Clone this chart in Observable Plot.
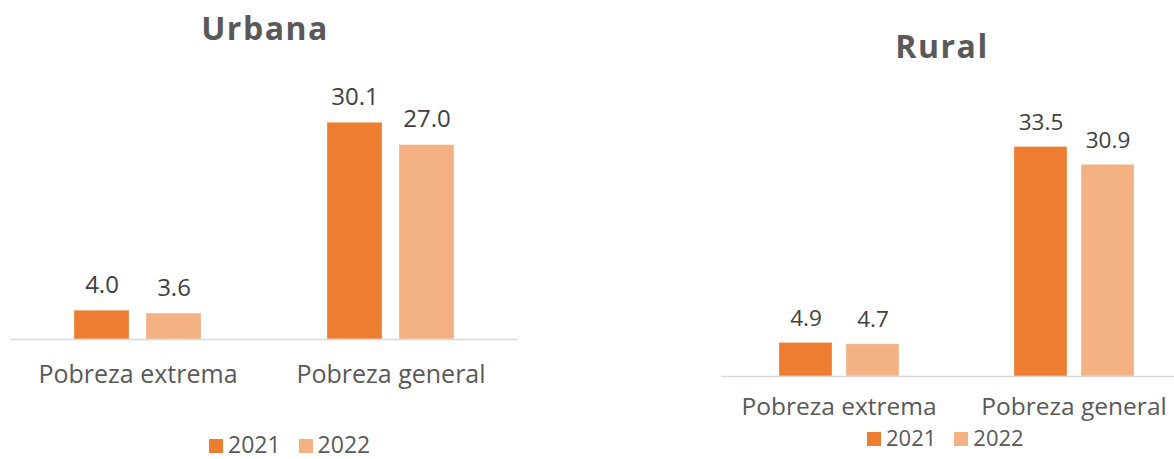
<!DOCTYPE html>
<html>
<head>
<meta charset="utf-8">
<script src="https://cdn.jsdelivr.net/npm/d3@7"></script>
<script src="https://cdn.jsdelivr.net/npm/@observablehq/plot@0.6"></script>
<style>
  html, body { margin: 0; padding: 0; background: #fff; overflow: hidden; }
  #root { position: relative; width: 1174px; height: 459px; overflow: hidden; font-family: "Open Sans", sans-serif; }
  .panel { position: absolute; top: 0; }
  .panel svg { max-width: none !important; }
  .title { position: absolute; width: 400px; text-align: center; font-size: 32px; line-height: 32px; font-weight: 700; color: #595959; letter-spacing: 1.5px; white-space: nowrap; }
  .legend { position: absolute; line-height: 20px; color: #595959; white-space: nowrap; }
  .legend .item { display: inline-block; margin-right: 18px; }
  .legend .sw { display: inline-block; width: 14px; height: 14px; margin-right: 5px; vertical-align: baseline; }
</style>
</head>
<body>
<div id="root"></div>
<script>
// ---- data ----
const categories = ["Pobreza extrema", "Pobreza general"];
const years = ["2021", "2022"];
const urbana2021 = [4.0, 30.1];
const urbana2022 = [3.6, 27.0];
const rural2021 = [4.9, 33.5];
const rural2022 = [4.7, 30.9];
const colors = ["#ED7D31", "#F4B183"];
const titles = ["Urbana", "Rural"];

function rowsOf(v2021, v2022) {
  const out = [];
  categories.forEach((c, i) => {
    out.push({category: c, year: years[0], value: v2021[i]});
    out.push({category: c, year: years[1], value: v2022[i]});
  });
  return out;
}
const fmt = d3.format(".1f");

function panel(rows, o) {
  return Plot.plot({
    width: o.width, height: o.height,
    marginLeft: o.marginLeft, marginRight: o.marginRight,
    marginTop: o.marginTop, marginBottom: o.marginBottom,
    style: {fontFamily: "Open Sans", background: "transparent", overflow: "visible", maxWidth: "none"},
    fx: {domain: categories, padding: 0, label: null},
    x: {domain: years, axis: null, paddingInner: o.paddingInner, paddingOuter: o.paddingOuter},
    y: {domain: [0, o.yMax], axis: null},
    color: {domain: years, range: colors},
    marks: [
      Plot.barY(rows, {fx: "category", x: "year", y: "value", fill: "year", stroke: "white", strokeOpacity: 0.3, strokeWidth: 1}),
      Plot.ruleY([0], {stroke: "#D9D9D9", strokeWidth: 1.5}),
      Plot.text(rows, {fx: "category", x: "year", y: "value", text: d => fmt(d.value),
        lineAnchor: "bottom", dy: o.labelDy, fontSize: o.valueSize, fill: "#404040"}),
      Plot.axisFx({anchor: "bottom", tickSize: 0, tickPadding: o.tickPadding, fontSize: o.catSize, label: null, fill: "#595959"})
    ]
  });
}

const root = document.getElementById("root");

function addPanel(rows, left, o) {
  const d = document.createElement("div");
  d.className = "panel";
  d.style.left = left + "px";
  d.style.width = o.width + "px";
  d.style.height = o.height + "px";
  const svg = panel(rows, o);
  svg.style.maxWidth = "none";
  d.appendChild(svg);
  root.appendChild(d);
}

function addTitle(text, cx, top) {
  const t = document.createElement("div");
  t.className = "title";
  t.style.left = (cx - 200) + "px";
  t.style.top = top + "px";
  t.textContent = text;
  root.appendChild(t);
}

function addLegend(left, top, size) {
  const l = document.createElement("div");
  l.className = "legend";
  l.style.left = left + "px";
  l.style.top = top + "px";
  l.style.fontSize = size + "px";
  years.forEach((y, i) => {
    const it = document.createElement("span");
    it.className = "item";
    const sw = document.createElement("span");
    sw.className = "sw";
    sw.style.background = colors[i];
    it.appendChild(sw);
    it.appendChild(document.createTextNode(y));
    l.appendChild(it);
  });
  root.appendChild(l);
}

// Urbana
addPanel(rowsOf(urbana2021, urbana2022), 0, {
  width: 540, height: 400, marginLeft: 10, marginRight: 23, marginTop: 51, marginBottom: 61,
  yMax: 40, paddingInner: 0.233, paddingOuter: 0.853, labelDy: -18, valueSize: 24, catSize: 25, tickPadding: 26
});
addTitle(titles[0], 265, 12);
addLegend(209, 434, 23);

// Rural
addPanel(rowsOf(rural2021, rural2022), 700, {
  width: 500, height: 430, marginLeft: 21, marginRight: 9, marginTop: 102, marginBottom: 54,
  yMax: 40, paddingInner: 0.209, paddingOuter: 0.858, labelDy: -17, valueSize: 22.5, catSize: 24.5, tickPadding: 21
});
addTitle(titles[1], 942, 30);
addLegend(867, 427, 22);
</script>
</body>
</html>
